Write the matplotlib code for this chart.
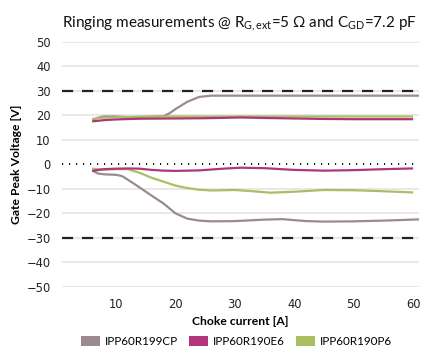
import matplotlib
matplotlib.use("Agg")
import matplotlib.pyplot as plt
from matplotlib.patches import Patch

# ---- data ----
series_names = ["IPP60R199CP", "IPP60R190E6", "IPP60R190P6"]
colors = ["#9B8A8F", "#B0357B", "#AABF62"]

cp_pos_x = [6, 7, 8, 10, 12, 14, 16, 17, 18, 19, 20, 22, 24, 26, 28, 30, 35, 40, 45, 50, 55, 61]
cp_pos_y = [18, 19, 19.5, 19.5, 19.2, 19.3, 19.4, 19.5, 19.6, 20.8, 22.5, 25.5, 27.5, 28, 28, 28, 28, 28, 28, 28, 28, 28]
cp_neg_x = [6, 7, 8, 10, 11, 12, 14, 16, 18, 20, 22, 24, 26, 30, 35, 38, 42, 45, 50, 55, 61]
cp_neg_y = [-2.5, -3.8, -4.1, -4.3, -4.8, -6.3, -9.5, -12.8, -16, -20, -22.2, -23, -23.3, -23.2, -22.6, -22.4, -23.2, -23.4, -23.3, -23, -22.5]

e6_pos_x = [6, 8, 10, 14, 20, 25, 31, 35, 40, 45, 50, 55, 60]
e6_pos_y = [17.5, 18, 18.3, 18.6, 18.7, 18.8, 19.1, 18.9, 18.7, 18.5, 18.4, 18.4, 18.4]
e6_neg_x = [6, 8, 10, 12, 14, 16, 18, 20, 24, 28, 31, 35, 40, 45, 50, 55, 60]
e6_neg_y = [-2.7, -2, -1.8, -1.7, -1.8, -2.3, -2.6, -2.7, -2.5, -1.8, -1.4, -1.6, -2.3, -2.6, -2.4, -2, -1.7]

p6_pos_x = [6, 8, 10, 14, 20, 25, 30, 35, 40, 45, 50, 55, 60]
p6_pos_y = [18.5, 19, 19.2, 19.4, 19.5, 19.5, 19.5, 19.5, 19.5, 19.5, 19.5, 19.5, 19.5]
p6_neg_x = [6, 8, 10, 12, 14, 16, 18, 20, 22, 24, 26, 30, 33, 36, 40, 45, 50, 55, 60]
p6_neg_y = [-1.8, -2.2, -2, -2, -3.5, -5.5, -7.1, -8.7, -9.7, -10.4, -10.7, -10.5, -11, -11.6, -11.2, -10.5, -10.6, -11, -11.5]

x_ticks = [10, 20, 30, 40, 50, 60]
y_ticks = [-50, -40, -30, -20, -10, 0, 10, 20, 30, 40, 50]
limit_levels = [30, -30]

# ---- figure ----
plt.rcParams['font.family'] = ['Lato', 'DejaVu Sans']
plt.rcParams['mathtext.fontset'] = 'custom'
plt.rcParams['mathtext.rm'] = 'Lato'
plt.rcParams['mathtext.it'] = 'Lato:italic'
plt.rcParams['mathtext.bf'] = 'Lato:bold'

fig = plt.figure(figsize=(4.25, 3.51), dpi=100)
ax = fig.add_axes([0.145, 0.183, 0.841, 0.698])

for yv in y_ticks:
    if yv == 0:
        continue
    ax.axhline(yv, color="#E8E1E4", lw=1.2, zorder=0)
for yv in limit_levels:
    ax.axhline(yv, color="#222222", lw=1.6, dashes=(5, 4), zorder=1)
ax.axhline(0, color="#111111", lw=1.4, dashes=(0.6, 3.0), zorder=1)

lw = 1.6
ax.plot(cp_pos_x, cp_pos_y, color=colors[0], lw=lw, zorder=2, solid_capstyle='butt')
ax.plot(cp_neg_x, cp_neg_y, color=colors[0], lw=lw, zorder=2, solid_capstyle='butt')
ax.plot(p6_pos_x, p6_pos_y, color=colors[2], lw=lw, zorder=3, solid_capstyle='butt')
ax.plot(p6_neg_x, p6_neg_y, color=colors[2], lw=lw, zorder=3, solid_capstyle='butt')
ax.plot(e6_pos_x, e6_pos_y, color=colors[1], lw=lw, zorder=4, solid_capstyle='butt')
ax.plot(e6_neg_x, e6_neg_y, color=colors[1], lw=lw, zorder=4, solid_capstyle='butt')

ax.set_xlim(0.86, 61)
ax.set_ylim(-50, 50)
ax.set_xticks(x_ticks)
ax.set_yticks(y_ticks)
ax.tick_params(length=0, labelsize=8.3, labelcolor="#222222", pad=8)
ax.tick_params(axis='x', pad=8)
for lab in ax.get_xticklabels() + ax.get_yticklabels():
    lab.set_fontfamily('DejaVu Sans')
for s in ax.spines.values():
    s.set_visible(False)

ax.set_xlabel("Choke current [A]", fontsize=8.7, fontweight='bold', labelpad=4)
ax.set_ylabel("Gate Peak Voltage [V]", fontsize=8.7, fontweight='bold', labelpad=3)

fig.text(0.145, 0.923, r"Ringing measurements @ R$_{\mathrm{G,ext}}$=5 Ω and C$_{\mathrm{GD}}$=7.2 pF",
         fontsize=11, ha='left', va='baseline', color="#111111")

handles = [Patch(facecolor=c, edgecolor='none') for c in colors]
fig.legend(handles, series_names, loc='center', bbox_to_anchor=(0.556, 0.028),
           ncol=3, frameon=False, fontsize=8.4, handlelength=1.65, handleheight=0.95,
           handletextpad=0.35, columnspacing=1.0)

fig.savefig("out.png", dpi=100)
